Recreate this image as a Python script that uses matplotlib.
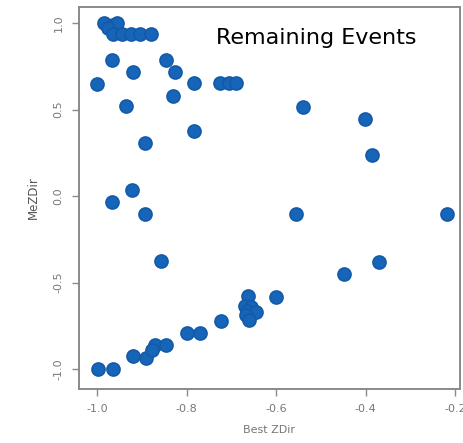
import matplotlib
matplotlib.use("Agg")
import matplotlib.pyplot as plt

# Event coordinates: best-fit z direction vs. measured z direction
best_zdir = [
    -0.985, -0.965, -0.955, -0.975, -0.965, -0.945, -0.925, -0.905, -0.88,
    -0.966, -0.92, -1.0, -0.935, -0.845, -0.826, -0.83, -0.783,
    -0.725, -0.705, -0.69, -0.539, -0.401, -0.386, -0.783, -0.892,
    -0.921, -0.966, -0.892, -0.555, -0.218, -0.858, -0.371, -0.448,
    -0.60, -0.662, -0.67, -0.655, -0.665, -0.645, -0.668, -0.66,
    -0.723, -0.798, -0.77, -0.871, -0.845, -0.919, -0.89, -0.878,
    -0.998, -0.964,
]
me_zdir = [
    1.0, 0.99, 1.0, 0.97, 0.94, 0.94, 0.94, 0.94, 0.94,
    0.79, 0.72, 0.65, 0.52, 0.79, 0.72, 0.58, 0.653,
    0.653, 0.653, 0.653, 0.514, 0.447, 0.239, 0.378, 0.306,
    0.033, -0.035, -0.102, -0.102, -0.102, -0.378, -0.381, -0.449,
    -0.584, -0.58, -0.635, -0.64, -0.665, -0.67, -0.69, -0.715,
    -0.72, -0.792, -0.792, -0.863, -0.863, -0.927, -0.936, -0.89,
    -1.0, -1.0,
]

x_ticks = [-1.0, -0.8, -0.6, -0.4, -0.2]
y_ticks = [-1.0, -0.5, 0.0, 0.5, 1.0]

fig = plt.figure(figsize=(4.63, 4.43), dpi=100)
ax = fig.add_axes([0.1706, 0.1219, 0.8229, 0.8623])

ax.scatter(best_zdir, me_zdir, s=88, color="#1765b8", edgecolors="#135aa8",
           linewidths=1.2, zorder=3)

ax.set_xlim(-1.0402, -0.189)
ax.set_ylim(-1.116, 1.094)

ax.set_xticks(x_ticks)
ax.set_xticklabels([f"{v:.1f}" for v in x_ticks])
ax.set_yticks(y_ticks)
ax.set_yticklabels([f"{v:.1f}" for v in y_ticks], rotation=90, va="center")

grey = "#8a8a8a"
for sp in ax.spines.values():
    sp.set_color(grey)
    sp.set_linewidth(1.4)
ax.tick_params(axis="both", colors=grey, labelcolor="#777777", labelsize=8,
               length=5, width=1.0, direction="out", pad=6)

ax.set_xlabel("Best ZDir", color="#777777", fontsize=8, labelpad=8)
ax.set_ylabel("MeZDir", color="#555555", fontsize=8.5, labelpad=10)

ax.text(0.885, 0.918, "Remaining Events", transform=ax.transAxes,
        ha="right", va="center", fontsize=16, color="black")

fig.savefig("out.png", dpi=100)
